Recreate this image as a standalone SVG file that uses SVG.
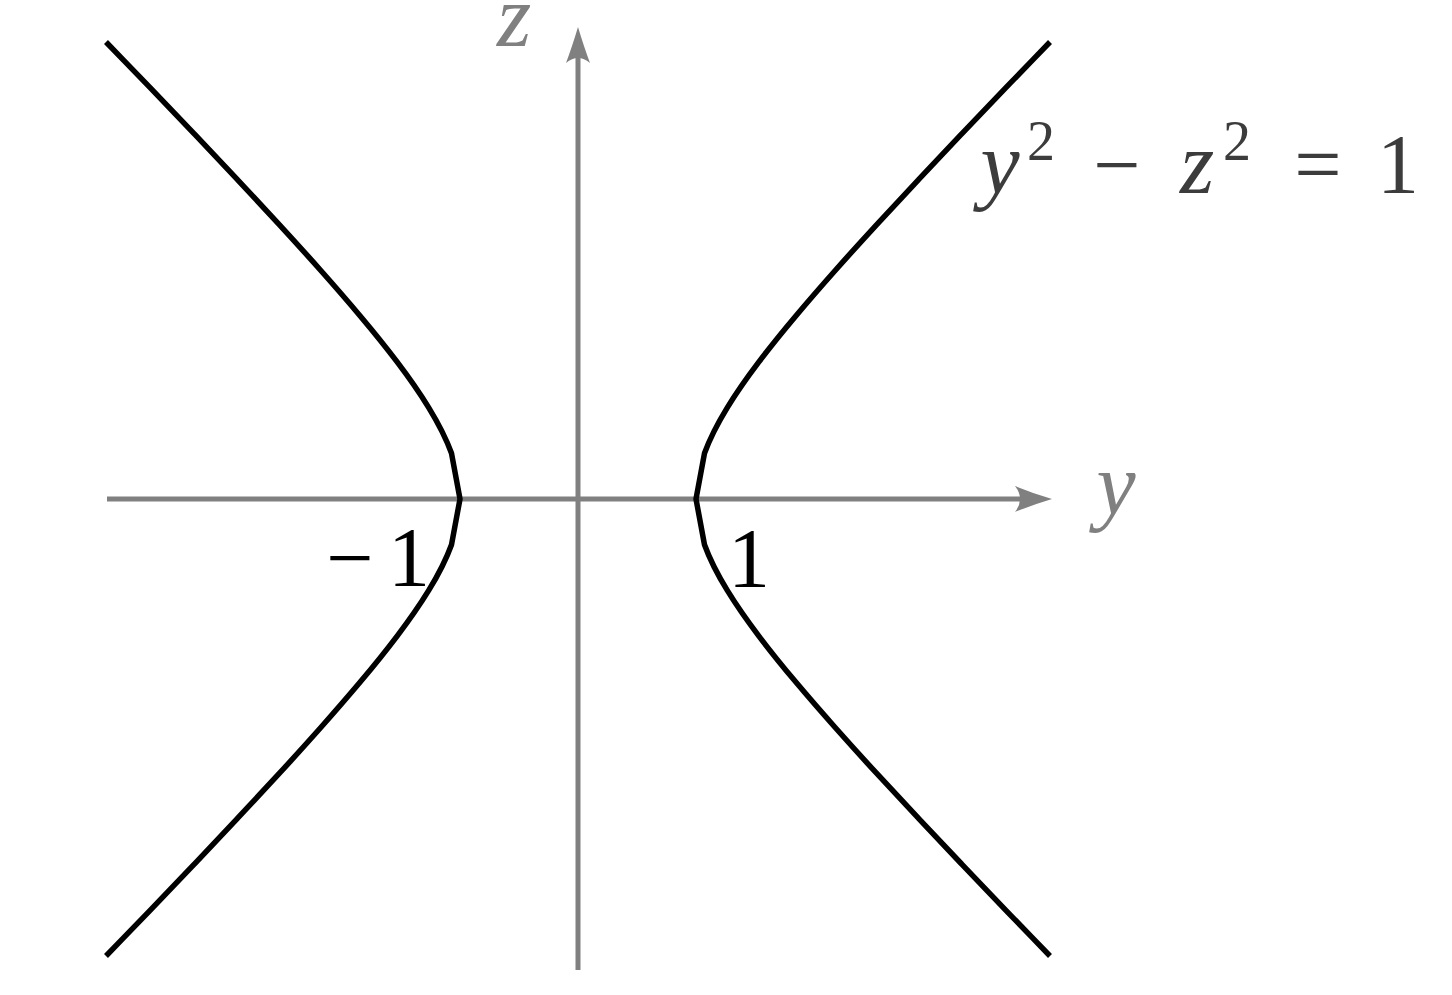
<svg xmlns="http://www.w3.org/2000/svg" width="1452" height="995" viewBox="0 0 1452 995">
<style>
.axis{stroke:#808080;stroke-width:5;fill:none}
.head{fill:#808080;stroke:none}
.curve{stroke:#000;stroke-width:5.5;fill:none;stroke-linejoin:round;stroke-linecap:butt}
.var{font-style:italic;font-size:88px}
.num{font-size:84px}
.sup{font-size:56px;font-style:normal}
.gray{fill:#808080}
.eq{fill:#3c3c3c}
</style>
<rect width="1452" height="995" fill="#fff"/>
<g id="axes">
  <line class="axis" x1="107" y1="499" x2="1030" y2="499"/>
  <path class="head" d="M1052,499 Q1032,493 1015,486 Q1025,499 1015,512 Q1032,505 1052,499 Z"/>
  <line class="axis" x1="578" y1="970" x2="578" y2="48"/>
  <path class="head" d="M578,27 Q572,47 566,63 Q578,53 590,63 Q584,47 578,27 Z"/>
</g>
<g id="right-branch">
  <path class="curve" d="M1050,42 C1035.3,57.2 1020.5,72.5 1005.9,87.7 C991.3,102.9 976.7,118.2 962.2,133.4 C947.7,148.6 933.3,163.9 919,179.1 C904.7,194.3 890.5,209.6 876.5,224.8 C862.5,240 848.7,255.3 835.2,270.5 C821.7,285.7 808.4,301 795.6,316.2 C782.8,331.4 770.4,346.7 758.9,361.9 C747.4,377.1 736.6,392.4 727.3,407.6 C718,422.8 710,438.1 704.5,453.3 L696,499 L704.5,544.7 C710,559.9 718,575.2 727.3,590.4 C736.6,605.6 747.4,620.9 758.9,636.1 C770.4,651.3 782.8,666.6 795.6,681.8 C808.4,697 821.7,712.3 835.2,727.5 C848.7,742.7 862.5,758 876.5,773.2 C890.5,788.4 904.7,803.7 919,818.9 C933.3,834.1 947.7,849.4 962.2,864.6 C976.7,879.8 991.3,895.1 1005.9,910.3 C1020.5,925.5 1035.3,940.8 1050,956"/>
</g>
<g id="left-branch">
  <path class="curve" d="M106,42 C120.7,57.2 135.5,72.5 150.1,87.7 C164.7,102.9 179.3,118.2 193.8,133.4 C208.3,148.6 222.7,163.9 237,179.1 C251.3,194.3 265.5,209.6 279.5,224.8 C293.5,240 307.3,255.3 320.8,270.5 C334.3,285.7 347.6,301 360.4,316.2 C373.2,331.4 385.6,346.7 397.1,361.9 C408.6,377.1 419.4,392.4 428.7,407.6 C438,422.8 446,438.1 451.5,453.3 L460,499 L451.5,544.7 C446,559.9 438,575.2 428.7,590.4 C419.4,605.6 408.6,620.9 397.1,636.1 C385.6,651.3 373.2,666.6 360.4,681.8 C347.6,697 334.3,712.3 320.8,727.5 C307.3,742.7 293.5,758 279.5,773.2 C265.5,788.4 251.3,803.7 237,818.9 C222.7,834.1 208.3,849.4 193.8,864.6 C179.3,879.8 164.7,895.1 150.1,910.3 C135.5,925.5 120.7,940.8 106,956"/>
</g>
<g id="labels" font-family="Liberation Serif, serif">
  <text class="var gray" x="514" y="46" text-anchor="middle">z</text>
  <text class="var gray" x="1116" y="514" text-anchor="middle">y</text>
  <text class="num" x="350" y="586" text-anchor="middle">−</text>
  <text class="num" x="409" y="586" text-anchor="middle">1</text>
  <text class="num" x="749" y="587" text-anchor="middle">1</text>
</g>
<g id="equation" font-family="Liberation Serif, serif">
  <text class="eq" y="193"><tspan class="var" x="1000" text-anchor="middle">y</tspan><tspan class="sup" x="1041" y="160" text-anchor="middle">2</tspan><tspan class="num" x="1117" y="193" text-anchor="middle">−</tspan><tspan class="var" x="1197" y="193" text-anchor="middle">z</tspan><tspan class="sup" x="1237" y="160" text-anchor="middle">2</tspan><tspan class="num" x="1318" y="193" text-anchor="middle">=</tspan><tspan class="num" x="1398" y="193" text-anchor="middle">1</tspan></text>
</g>
</svg>
